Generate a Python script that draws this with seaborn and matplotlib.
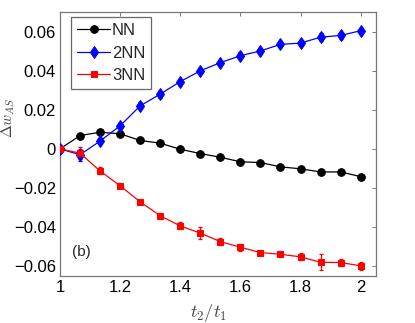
import matplotlib

matplotlib.use("Agg")

import matplotlib.pyplot as plt
import numpy as np
import pandas as pd
import seaborn as sns

# ratio t2/t1
ratio = [1.0, 1.0667, 1.1333, 1.2, 1.2667, 1.3333, 1.4, 1.4667,
         1.5333, 1.6, 1.6667, 1.7333, 1.8, 1.8667, 1.9333, 2.0]

nn = [0.0, 0.0068, 0.0085, 0.0077, 0.0043, 0.0029, -0.0002, -0.0024,
      -0.0043, -0.0066, -0.0070, -0.0092, -0.0102, -0.0118, -0.0118, -0.0142]
nn_err = [0.0008, 0.0008, 0.0010, 0.0008, 0.0008, 0.0012, 0.0008, 0.0008,
          0.0008, 0.0015, 0.0008, 0.0008, 0.0008, 0.0008, 0.0010, 0.0008]

nn2 = [0.0, -0.0030, 0.0040, 0.0118, 0.0220, 0.0280, 0.0344, 0.0399,
       0.0441, 0.0476, 0.0501, 0.0534, 0.0541, 0.0571, 0.0580, 0.0604]
nn2_err = [0.0020, 0.0030, 0.0015, 0.0015, 0.0018, 0.0018, 0.0015, 0.0015,
           0.0015, 0.0018, 0.0015, 0.0015, 0.0015, 0.0020, 0.0020, 0.0015]

nn3 = [0.0, -0.0022, -0.0113, -0.0189, -0.0271, -0.0342, -0.0394, -0.0431,
       -0.0474, -0.0503, -0.0530, -0.0539, -0.0552, -0.0580, -0.0581, -0.0598]
nn3_err = [0.0020, 0.0030, 0.0018, 0.0012, 0.0012, 0.0015, 0.0018, 0.0030,
           0.0020, 0.0018, 0.0015, 0.0015, 0.0018, 0.0040, 0.0020, 0.0020]

series = [
    ("NN", nn, nn_err, "black", "o", 5.5),
    ("2NN", nn2, nn2_err, "#0000ff", "d", 6),
    ("3NN", nn3, nn3_err, "#ff0000", "s", 5),
]

sns.set_style("white")
plt.rcParams["font.family"] = ["Liberation Sans", "DejaVu Sans"]
plt.rcParams["mathtext.fontset"] = "cm"

fig = plt.figure(figsize=(4.15, 3.23), dpi=100)
ax = fig.add_axes([0.1446, 0.1455, 0.7607, 0.8175])

for name, vals, errs, color, marker, ms in series:
    df = pd.DataFrame({"x": ratio, "y": vals})
    ax.errorbar(ratio, vals, yerr=errs, fmt="none", ecolor=color,
                elinewidth=0.9, capsize=1.5, capthick=0.9, zorder=2)
    sns.lineplot(data=df, x="x", y="y", ax=ax, color=color, marker=marker,
                 markersize=ms, markeredgecolor=color, linewidth=0.9,
                 label=name, zorder=3)

ax.set_xlim(1, 2.05)
ax.set_ylim(-0.065, 0.07)
ax.set_xticks([1, 1.2, 1.4, 1.6, 1.8, 2])
ax.set_xticklabels(["1", "1.2", "1.4", "1.6", "1.8", "2"])
ax.set_yticks([-0.06, -0.04, -0.02, 0, 0.02, 0.04, 0.06])
ax.set_yticklabels(["\u22120.06", "\u22120.04", "\u22120.02", "0",
                    "0.02", "0.04", "0.06"])
ax.tick_params(direction="in", length=3, width=0.7, labelsize=12, pad=3,
               top=True, right=True, colors="#777777", labelcolor="black")
for sp in ax.spines.values():
    sp.set_color("#777777")
    sp.set_linewidth(0.9)

ax.set_xlabel("$t_2/t_1$", fontsize=13, color="#444444")
ax.set_ylabel("$\\Delta w_{AS}$", fontsize=11, color="#444444")
ax.xaxis.set_label_coords(0.47, -0.1)
ax.yaxis.set_label_coords(-0.135, 0.6)

ax.text(1.04, -0.0527, "(b)", fontsize=11, va="center", ha="left")

leg = ax.legend(loc="upper left", fontsize=12, frameon=True, fancybox=False,
                edgecolor="#444444", handlelength=2.0, handletextpad=0.1,
                borderpad=0.35, labelspacing=0.45,
                bbox_to_anchor=(0.035, 0.98), borderaxespad=0)
leg.get_frame().set_linewidth(0.9)

fig.savefig("out.png", dpi=100)
